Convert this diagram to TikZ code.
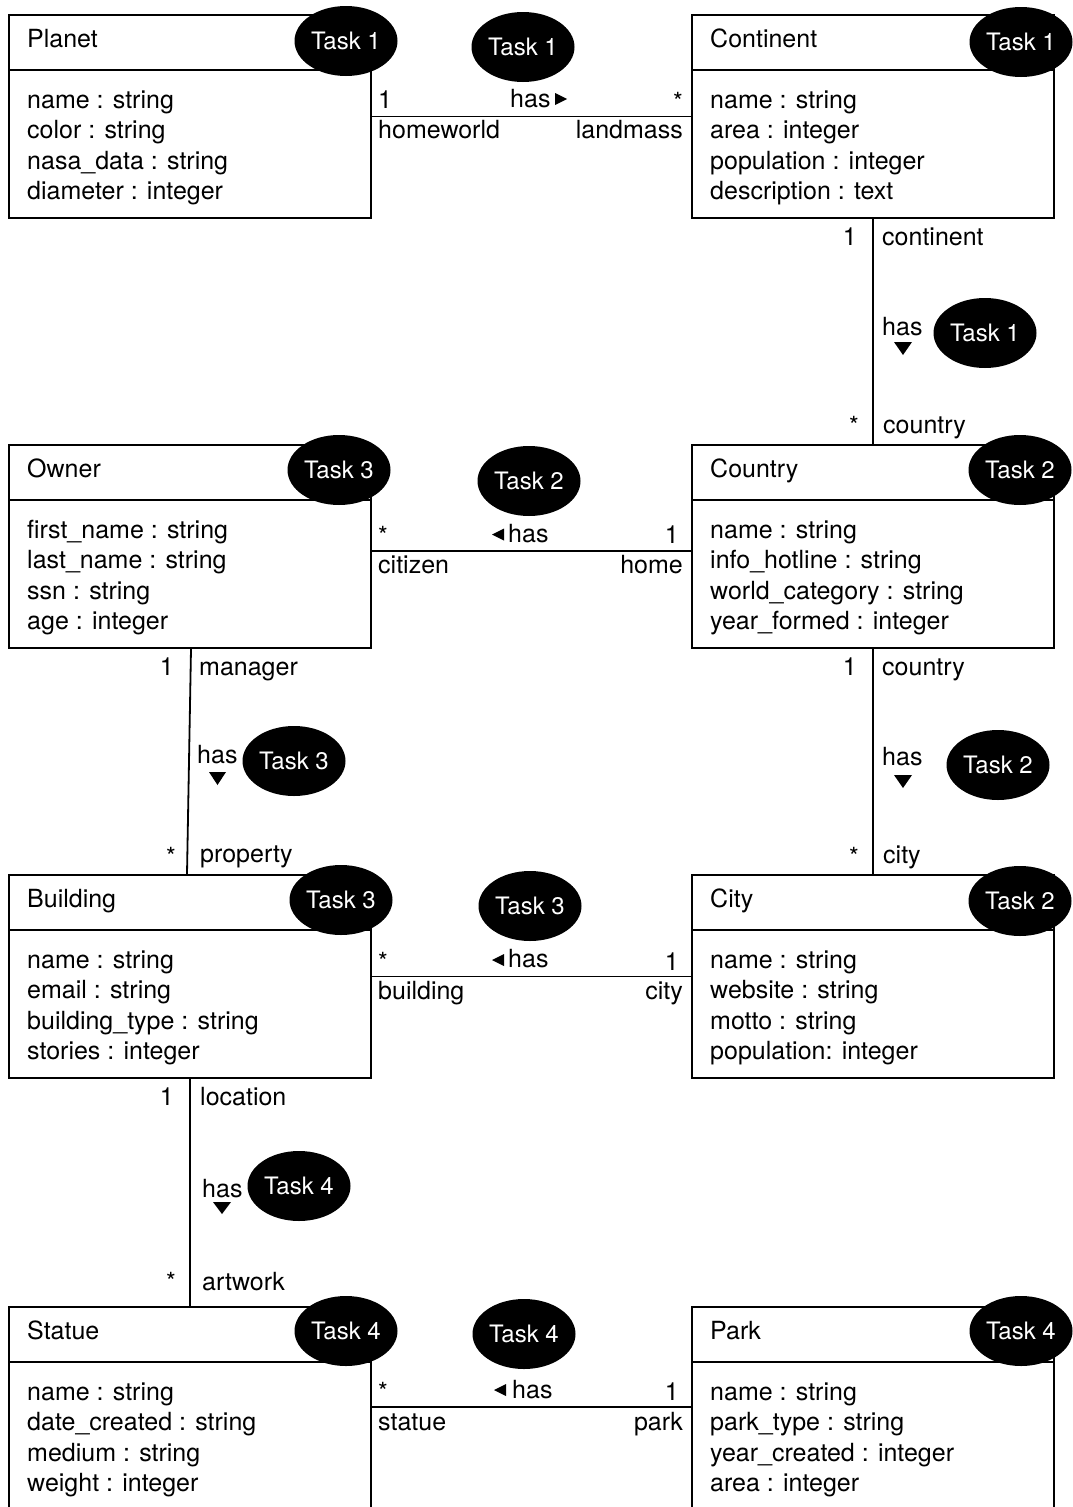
\documentclass[tikz,border=0pt]{standalone}
\usepackage{fontspec}
\setmainfont{TeX Gyre Heros}
\usetikzlibrary{shapes.geometric}
\newcommand{\umlclass}[4]{%
  \node[classbox] (#1) at #2 {};
  \draw[line width=2] ([yshift=-56]#1.north west) -- ([yshift=-56]#1.north east);
  \node[lbl] (#1-title) at ([xshift=19,yshift=-33]#1.north west) {#3};
  \node[lbl, align=left] (#1-attr) at ([xshift=19,yshift=-185.8]#1.north west) {#4};
}
\begin{document}
\begin{tikzpicture}[x=1pt,y=-1pt,
  classbox/.style={draw, line width=2, minimum width=362, minimum height=203, inner sep=0, anchor=north west},
  txt/.style={font=\fontsize{25}{30.6}\selectfont, inner sep=0},
  lbl/.style={txt, anchor=base west},
  rlbl/.style={txt, anchor=base east},
  task/.style={ellipse, fill=black, text=white, minimum width=103, minimum height=70, inner sep=0, font=\fontsize{24}{28}\selectfont},
  conn/.style={line width=1.8}]
\useasboundingbox (0,0) rectangle (1073,1507);
\clip (0,0) rectangle (1073,1507);

% classes
\umlclass{planet}{(8,14)}{Planet}{name : string\\color : string\\nasa\_data : string\\diameter : integer}
\umlclass{continent}{(691,14)}{Continent}{name : string\\area : integer\\population : integer\\description : text}
\umlclass{owner}{(8,444)}{Owner}{first\_name : string\\last\_name : string\\ssn : string\\age : integer}
\umlclass{country}{(691,444)}{Country}{name : string\\info\_hotline : string\\world\_category : string\\year\_formed : integer}
\umlclass{building}{(8,874)}{Building}{name : string\\email : string\\building\_type : string\\stories : integer}
\umlclass{city}{(691,874)}{City}{name : string\\website : string\\motto : string\\population: integer}
\umlclass{statue}{(8,1306)}{Statue}{name : string\\date\_created : string\\medium : string\\weight : integer}
\umlclass{park}{(691,1306)}{Park}{name : string\\park\_type : string\\year\_created : integer\\area : integer}

% connectors
\draw[conn] (planet.east) -- (continent.west);
\draw[conn] ([yshift=-4.5]owner.east) -- ([yshift=-4.5]country.west);
\draw[conn] (building.east) -- (city.west);
\draw[conn] ([yshift=1.5]statue.east) -- ([yshift=1.5]park.west);
\draw[conn] (continent.south) -- (country.north);
\draw[conn] (country.south) -- (city.north);
\draw[conn] ([xshift=1]owner.south) -- ([xshift=-3]building.north);
\draw[conn] (building.south) -- (statue.north);

% Planet - Continent labels
\node[lbl] (m1a) at (378,108) {1};
\node[lbl] (h1) at (510,107) {has};
\node[rlbl] (m1b) at (683,110) {*};
\node[lbl] (r1a) at (378,138) {homeworld};
\node[rlbl] (r1b) at (683,138) {landmass};
\fill (555,93) -- (567,99) -- (555,105) -- cycle;

% Owner - Country labels
\node[lbl] (m2a) at (378,544) {*};
\node[lbl] (h2) at (508,542) {has};
\node[rlbl] (m2b) at (679,543) {1};
\node[lbl] (r2a) at (378,573) {citizen};
\node[rlbl] (r2b) at (683,573) {home};
\fill (504,528.5) -- (492,534.5) -- (504,540.5) -- cycle;

% Building - City labels
\node[lbl] (m3a) at (378,970) {*};
\node[lbl] (h3) at (508,967) {has};
\node[rlbl] (m3b) at (679,970) {1};
\node[lbl] (r3a) at (378,999) {building};
\node[rlbl] (r3b) at (683,999) {city};
\fill (504,954) -- (492,960) -- (504,966) -- cycle;

% Statue - Park labels
\node[lbl] (m4a) at (378,1400) {*};
\node[lbl] (h4) at (512,1398) {has};
\node[rlbl] (m4b) at (679,1400) {1};
\node[lbl] (r4a) at (378,1430) {statue};
\node[rlbl] (r4b) at (683,1430) {park};
\fill (506,1384) -- (494,1390) -- (506,1396) -- cycle;

% Continent - Country labels
\node[rlbl] (v1a) at (857,245) {1};
\node[lbl] (v1b) at (882,245) {continent};
\node[lbl] (vh1) at (882,335) {has};
\fill (894,342) -- (912,342) -- (903,355) -- cycle;
\node[rlbl] (v1c) at (859,434) {*};
\node[lbl] (v1d) at (883,433) {country};

% Country - City labels
\node[rlbl] (v2a) at (857,675) {1};
\node[lbl] (v2b) at (882,675) {country};
\node[lbl] (vh2) at (882,765) {has};
\fill (894,775) -- (912,775) -- (903,788) -- cycle;
\node[rlbl] (v2c) at (859,865) {*};
\node[lbl] (v2d) at (883,863) {city};

% Owner - Building labels
\node[rlbl] (v3a) at (174,675) {1};
\node[lbl] (v3b) at (199,675) {manager};
\node[lbl] (vh3) at (197,763) {has};
\fill (209,772) -- (226,772) -- (217.5,785) -- cycle;
\node[rlbl] (v3c) at (176,865) {*};
\node[lbl] (v3d) at (200,862) {property};

% Building - Statue labels
\node[rlbl] (v4a) at (174,1105) {1};
\node[lbl] (v4b) at (200,1105) {location};
\node[lbl] (vh4) at (202,1197) {has};
\fill (213,1202) -- (231,1202) -- (222,1214) -- cycle;
\node[rlbl] (v4c) at (176,1290) {*};
\node[lbl] (v4d) at (202,1290) {artwork};

% task ellipses
\node[task] (tplanet) at (346,41) {Task 1};
\node[task] (tcontinent) at (1021,42) {Task 1};
\node[task] (tpc) at (523,47) {Task 1};
\node[task] (tcc) at (985,333) {Task 1};
\node[task] (towner) at (339,470) {Task 3};
\node[task] (tcountry) at (1020,470) {Task 2};
\node[task] (toc) at (529,481) {Task 2};
\node[task] (tob) at (294,761) {Task 3};
\node[task] (tci) at (998,765) {Task 2};
\node[task] (tbuilding) at (341,900) {Task 3};
\node[task] (tcity) at (1020,901) {Task 2};
\node[task] (tbc) at (530,906) {Task 3};
\node[task] (tbs) at (299,1186) {Task 4};
\node[task] (tstatue) at (346,1331) {Task 4};
\node[task] (tpark) at (1021,1331) {Task 4};
\node[task] (tsp) at (524,1334) {Task 4};
\end{tikzpicture}
\end{document}
